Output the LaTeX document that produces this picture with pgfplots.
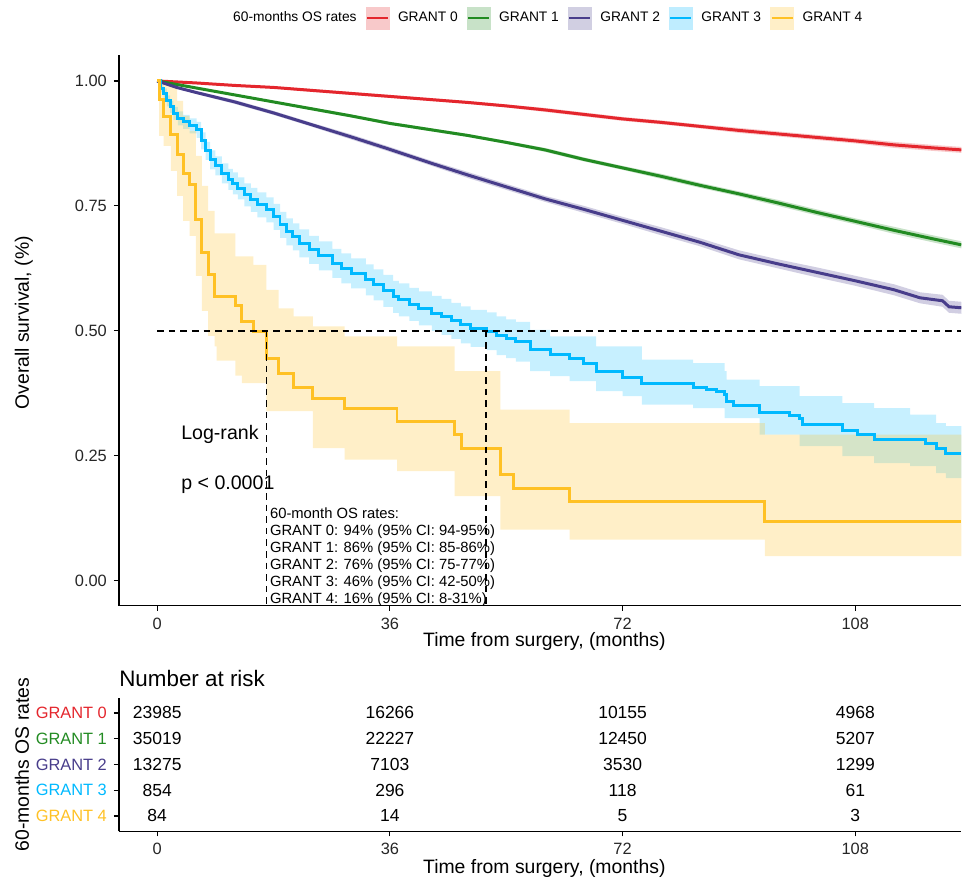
\documentclass[border=0pt]{standalone}
\usepackage{fontspec}
\setmainfont{Liberation Sans}
\usepackage{pgfplots}
\pgfplotsset{compat=1.18}
\usepackage{pgfplotstable}
\usepgfplotslibrary{fillbetween}

\definecolor{cR}{RGB}{228,38,45}
\definecolor{cG}{RGB}{34,139,34}
\definecolor{cP}{RGB}{72,61,139}
\definecolor{cB}{RGB}{0,185,255}
\definecolor{cY}{RGB}{255,193,37}

% survival curves: t = months, s = estimate, lo/hi = 95% CI
\pgfplotstableread{
t s lo hi
0 1.000 1.000 1.000
6 0.996 0.995 0.997
12 0.991 0.989 0.993
18 0.987 0.985 0.989
24 0.981 0.978 0.984
30 0.975 0.972 0.978
36 0.969 0.966 0.972
42 0.963 0.960 0.966
48 0.957 0.954 0.960
54 0.950 0.947 0.953
60 0.942 0.938 0.946
66 0.933 0.929 0.937
72 0.924 0.920 0.928
78 0.917 0.913 0.921
84 0.909 0.905 0.913
90 0.901 0.896 0.906
96 0.894 0.889 0.899
102 0.887 0.882 0.892
108 0.880 0.875 0.885
114 0.872 0.866 0.878
120 0.866 0.860 0.872
124.4 0.862 0.856 0.868
}\grantzero

\pgfplotstableread{
t s lo hi
0 1.000 1.000 1.000
6 0.986 0.985 0.987
12 0.972 0.970 0.974
18 0.958 0.956 0.960
24 0.944 0.941 0.947
30 0.930 0.927 0.933
36 0.915 0.912 0.918
42 0.903 0.900 0.906
48 0.891 0.888 0.894
54 0.877 0.874 0.880
60 0.862 0.858 0.866
66 0.843 0.839 0.847
72 0.826 0.822 0.830
78 0.809 0.804 0.814
84 0.791 0.786 0.796
90 0.774 0.769 0.779
96 0.756 0.750 0.762
102 0.737 0.731 0.743
108 0.719 0.713 0.725
114 0.701 0.694 0.708
120 0.684 0.677 0.691
124.4 0.672 0.665 0.679
}\grantone

\pgfplotstableread{
t s lo hi
0 1.000 1.000 1.000
3 0.987 0.985 0.989
6 0.977 0.974 0.980
12 0.958 0.954 0.962
18 0.936 0.932 0.940
24 0.912 0.908 0.916
30 0.888 0.883 0.893
36 0.863 0.858 0.868
42 0.837 0.832 0.842
48 0.812 0.806 0.818
54 0.788 0.782 0.794
60 0.764 0.758 0.770
66 0.743 0.736 0.750
72 0.721 0.714 0.728
78 0.699 0.691 0.707
84 0.677 0.669 0.685
90 0.652 0.643 0.661
96 0.634 0.625 0.643
102 0.617 0.607 0.627
108 0.600 0.590 0.610
114 0.582 0.571 0.593
118 0.566 0.555 0.577
121.5 0.560 0.548 0.572
122.5 0.548 0.536 0.560
124.4 0.546 0.534 0.558
}\granttwo

\pgfplotstableread{
t s lo hi
0 1.000 1.000 1.000
0.5 0.985 0.977 0.993
1.0 0.975 0.965 0.985
1.5 0.960 0.949 0.971
2.0 0.948 0.936 0.960
2.5 0.935 0.922 0.948
3.2 0.925 0.911 0.939
4.0 0.918 0.904 0.932
5.0 0.910 0.895 0.925
6.1 0.902 0.886 0.918
6.8 0.880 0.863 0.897
7.5 0.860 0.842 0.878
8.2 0.842 0.823 0.861
9.0 0.830 0.811 0.849
10.0 0.815 0.795 0.835
11.0 0.803 0.782 0.824
11.7 0.795 0.773 0.817
12.5 0.785 0.763 0.807
13.5 0.772 0.749 0.795
14.5 0.762 0.738 0.786
15.5 0.752 0.727 0.777
16.9 0.742 0.717 0.767
18.0 0.728 0.702 0.754
19.0 0.712 0.686 0.738
20.0 0.698 0.671 0.725
21.0 0.688 0.661 0.715
22.0 0.675 0.647 0.703
23.5 0.662 0.634 0.690
25.0 0.650 0.621 0.679
27.1 0.635 0.606 0.664
28.5 0.625 0.595 0.655
30.0 0.615 0.585 0.645
32.3 0.602 0.571 0.633
33.5 0.592 0.561 0.623
35.0 0.580 0.548 0.612
36.5 0.568 0.536 0.600
37.4 0.562 0.529 0.595
39.0 0.553 0.520 0.586
40.5 0.545 0.511 0.579
42.5 0.535 0.500 0.570
44.0 0.528 0.492 0.564
45.5 0.520 0.484 0.556
47.0 0.512 0.475 0.549
48.5 0.505 0.468 0.542
51.0 0.499 0.461 0.537
52.5 0.490 0.451 0.529
54.0 0.484 0.445 0.523
55.5 0.478 0.438 0.518
57.7 0.462 0.419 0.502
60.8 0.452 0.409 0.489
63.8 0.445 0.399 0.489
65.9 0.435 0.399 0.489
67.9 0.419 0.379 0.469
72.0 0.407 0.369 0.469
75.0 0.395 0.352 0.442
82.9 0.387 0.345 0.435
85.0 0.383 0.345 0.435
86.5 0.379 0.345 0.435
87.8 0.372 0.325 0.419
88.1 0.359 0.325 0.402
89.1 0.350 0.325 0.402
93.2 0.337 0.292 0.389
97.8 0.330 0.292 0.389
99.4 0.325 0.269 0.369
99.8 0.312 0.269 0.369
106.0 0.301 0.249 0.355
108.3 0.292 0.249 0.355
110.9 0.283 0.235 0.345
116.5 0.283 0.229 0.332
118.9 0.275 0.229 0.332
120.5 0.265 0.215 0.315
122.0 0.255 0.205 0.309
124.4 0.255 0.205 0.309
}\grantthree

\pgfplotstableread{
t s lo hi
0 1.000 1.000 1.000
0.3 0.963 0.890 1.000
1.0 0.929 0.870 1.000
2.1 0.892 0.820 0.990
3.1 0.852 0.770 0.960
4.0 0.815 0.720 0.930
5.0 0.792 0.690 0.900
6.0 0.723 0.610 0.850
6.9 0.657 0.540 0.790
7.9 0.612 0.490 0.740
8.9 0.569 0.469 0.695
9.2 0.569 0.440 0.695
12.1 0.550 0.410 0.649
13.1 0.519 0.395 0.649
14.9 0.499 0.395 0.632
16.9 0.445 0.339 0.582
18.8 0.415 0.339 0.545
21.1 0.387 0.339 0.529
24.1 0.365 0.265 0.509
29.0 0.344 0.242 0.489
37.1 0.319 0.219 0.469
46.0 0.292 0.169 0.419
47.1 0.265 0.169 0.419
53.1 0.212 0.102 0.342
55.1 0.185 0.102 0.342
63.8 0.159 0.082 0.315
94.0 0.119 0.049 0.292
124.4 0.119 0.049 0.292
}\grantfour

% number at risk
\pgfplotstableread{
t row n
0 5 23985
36 5 16266
72 5 10155
108 5 4968
0 4 35019
36 4 22227
72 4 12450
108 4 5207
0 3 13275
36 3 7103
72 3 3530
108 3 1299
0 2 854
36 2 296
72 2 118
108 2 61
0 1 84
36 1 14
72 1 5
108 1 3
}\atrisk

\pgfplotsset{
  kmkey/.style={legend image code/.code={
    \fill[#1!25] (0pt,-5.5pt) rectangle (11.5pt,5.5pt);
    \draw[#1, line width=1.4pt] (0.5pt,0pt) -- (11pt,0pt);}},
  kmbase/.style={
    scale only axis, anchor=south west,
    xmin=-5.92, xmax=124.4,
    axis lines*=left,
    axis line style={line width=0.7pt},
    tick align=outside, major tick length=2.5pt,
    tick style={black, line width=0.6pt},
    xtick={0,36,72,108},
    /pgf/number format/assume math mode=true,
    tick label style={font=\fontsize{8.2}{9}\selectfont, text=black!85},
    label style={font=\fontsize{9.7}{11}\selectfont},
  },
  median/.style={black, line width=0.9pt, dash pattern=on 3.3pt off 2.5pt, forget plot},
}

\begin{document}
\begin{tikzpicture}

\begin{axis}[kmbase,
  at={(59.5pt,135.5pt)}, width=421.5pt, height=275.5pt,
  ymin=-0.05, ymax=1.052,
  ytick={0,0.25,0.5,0.75,1},
  yticklabels={0.00,0.25,0.50,0.75,1.00},
  xlabel={Time from surgery, (months)},
  ylabel={Overall survival, (\%)},
  xlabel style={at={(axis description cs:0.505,-0.0653)}, anchor=center},
  ylabel style={at={(axis description cs:-0.1127,0.5136)}, anchor=center},
  legend columns=-1,
  legend style={at={(0.504,1.067)}, anchor=center, draw=none, fill=none,
    font=\fontsize{6.9}{8}\selectfont, nodes={inner sep=0pt},
    /tikz/every odd column/.append style={column sep=4.3pt},
    /tikz/every even column/.append style={column sep=4.5pt}},
]
% lines
\addplot[cR, line width=1.5pt, forget plot] table[x=t,y=s]{\grantzero};
\addplot[cG, line width=1.5pt, forget plot] table[x=t,y=s]{\grantone};
\addplot[cP, line width=1.5pt, forget plot] table[x=t,y=s]{\granttwo};
\addplot[cB, line width=1.5pt, const plot, forget plot] table[x=t,y=s]{\grantthree};
\addplot[cY, line width=1.5pt, const plot, forget plot] table[x=t,y=s]{\grantfour};

% confidence bands
\addplot[draw=none, name path=r0, forget plot] table[x=t,y=lo]{\grantzero};
\addplot[draw=none, name path=r1, forget plot] table[x=t,y=hi]{\grantzero};
\addplot[fill=cR, fill opacity=0.25, forget plot] fill between[of=r0 and r1];
\addplot[draw=none, name path=g0, forget plot] table[x=t,y=lo]{\grantone};
\addplot[draw=none, name path=g1, forget plot] table[x=t,y=hi]{\grantone};
\addplot[fill=cG, fill opacity=0.25, forget plot] fill between[of=g0 and g1];
\addplot[draw=none, name path=p0, forget plot] table[x=t,y=lo]{\granttwo};
\addplot[draw=none, name path=p1, forget plot] table[x=t,y=hi]{\granttwo};
\addplot[fill=cP, fill opacity=0.25, forget plot] fill between[of=p0 and p1];
\addplot[draw=none, const plot, name path=b0, forget plot] table[x=t,y=lo]{\grantthree};
\addplot[draw=none, const plot, name path=b1, forget plot] table[x=t,y=hi]{\grantthree};
\addplot[fill=cB, fill opacity=0.22, forget plot] fill between[of=b0 and b1];
\addplot[draw=none, const plot, name path=y0, forget plot] table[x=t,y=lo]{\grantfour};
\addplot[draw=none, const plot, name path=y1, forget plot] table[x=t,y=hi]{\grantfour};
\addplot[fill=cY, fill opacity=0.25, forget plot] fill between[of=y0 and y1];

% median lines
\addplot[median] coordinates {(0,0.5) (124.4,0.5)};
\addplot[median] coordinates {(16.9,0.5) (16.9,-0.05)};
\addplot[median] coordinates {(50.9,0.5) (50.9,-0.05)};

\node[anchor=west, inner sep=0pt, font=\fontsize{9.8}{11}\selectfont] at (axis cs:3.67,0.292) {Log-rank};
\node[anchor=west, inner sep=0pt, font=\fontsize{9.8}{11}\selectfont] at (axis cs:3.67,0.192) {p < 0.0001};
\node[anchor=north west, inner sep=0pt, align=left, font=\fontsize{7.4}{8.5}\selectfont]
  at (axis cs:17.4,0.146)
  {60-month OS rates:\\
   GRANT 0: 94\% (95\% CI: 94-95\%)\\
   GRANT 1: 86\% (95\% CI: 85-86\%)\\
   GRANT 2: 76\% (95\% CI: 75-77\%)\\
   GRANT 3: 46\% (95\% CI: 42-50\%)\\
   GRANT 4: 16\% (95\% CI: 8-31\%)};

\addlegendimage{empty legend}\addlegendentry{60-months OS rates}
\addlegendimage{kmkey=cR}\addlegendentry{GRANT 0}
\addlegendimage{kmkey=cG}\addlegendentry{GRANT 1}
\addlegendimage{kmkey=cP}\addlegendentry{GRANT 2}
\addlegendimage{kmkey=cB}\addlegendentry{GRANT 3}
\addlegendimage{kmkey=cY}\addlegendentry{GRANT 4}
\end{axis}

\begin{axis}[kmbase,
  at={(59.5pt,22.5pt)}, width=421.5pt, height=67pt,
  ymin=0.4, ymax=5.6, clip=false,
  ytick={1,2,3,4,5},
  yticklabels={\textcolor{cY}{GRANT 4},\textcolor{cB}{GRANT 3},\textcolor{cP}{GRANT 2},\textcolor{cG}{GRANT 1},\textcolor{cR}{GRANT 0}},
  xlabel={Time from surgery, (months)},
  ylabel={60-months OS rates},
  xlabel style={at={(axis description cs:0.505,-0.275)}, anchor=center},
  ylabel style={at={(axis description cs:-0.115,0.5)}, anchor=center},
]
\addplot[only marks, mark=*, mark size=0.5pt, mark options={opacity=0},
  nodes near coords, point meta=explicit symbolic,
  nodes near coords align={center},
  every node near coord/.append style={font=\fontsize{8.75}{10}\selectfont, inner sep=0pt, text=black, opacity=1}]
  table[x=t, y=row, meta=n]{\atrisk};
\node[anchor=west, inner sep=0pt, font=\fontsize{11.2}{13}\selectfont]
  at (rel axis cs:0,1.142) {Number at risk};
\end{axis}

\path[use as bounding box] (0,0) rectangle (481pt,438.5pt);
\end{tikzpicture}
\end{document}
